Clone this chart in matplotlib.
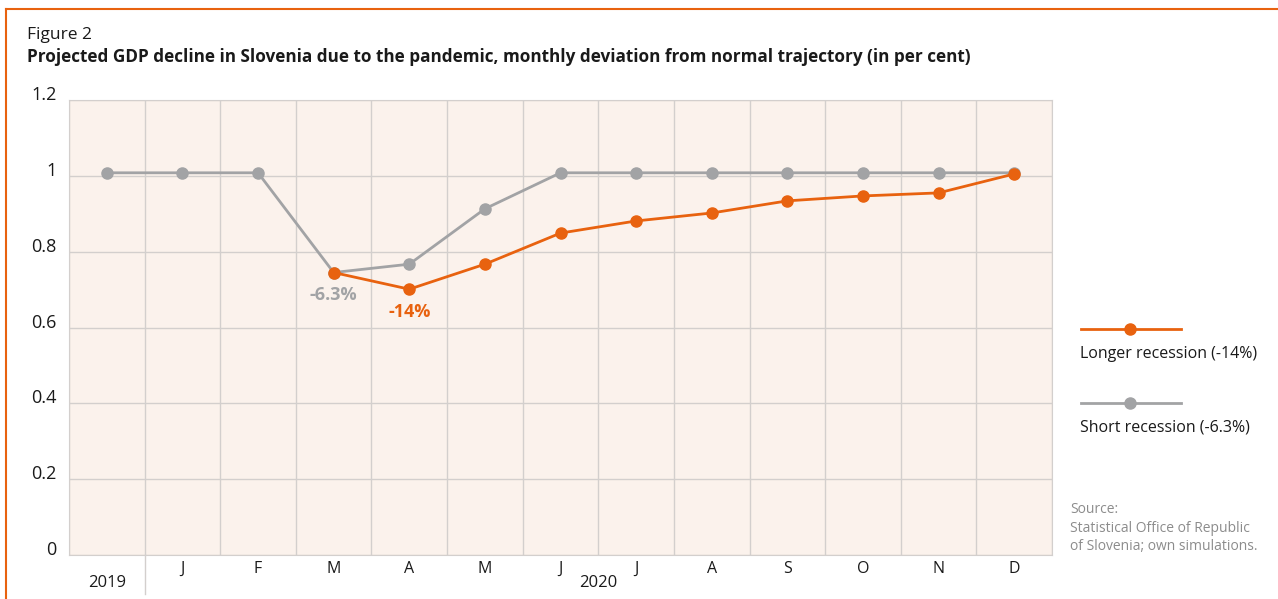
import matplotlib.pyplot as plt
from matplotlib.lines import Line2D
import numpy as np

plt.rcParams['font.family'] = ['Open Sans', 'DejaVu Sans']

# months: Dec 2019, then Jan..Dec 2020
months = ['', 'J', 'F', 'M', 'A', 'M', 'J', 'J', 'A', 'S', 'O', 'N', 'D']
years = ['2019', '2020']
short_rec = [1.008, 1.008, 1.008, 0.745, 0.767, 0.913, 1.008, 1.008, 1.008, 1.008, 1.008, 1.008, 1.008]
longer_rec = [None, None, None, 0.745, 0.701, 0.767, 0.849, 0.881, 0.902, 0.934, 0.947, 0.955, 1.005]
yticks = [0, 0.2, 0.4, 0.6, 0.8, 1, 1.2]
ytick_labels = ['0', '0.2', '0.4', '0.6', '0.8', '1', '1.2']

orange = '#E8620F'
grey = '#A2A3A5'
gridc = '#D3CFCD'
txt = '#1a1a1a'

fig = plt.figure(figsize=(12.78, 5.99), dpi=100)
ax = fig.add_axes([69/1278, 1-555/599, (1052-69)/1278, (555-100)/599])
ax.set_facecolor('#FBF2EC')

x = np.arange(len(months))
ax.plot(x, short_rec, '-o', color=grey, lw=2, ms=8, zorder=3)
xl = [i for i, v in zip(x, longer_rec) if v is not None]
yl = [v for v in longer_rec if v is not None]
ax.plot(xl, yl, '-o', color=orange, lw=2, ms=8, zorder=4)

ax.text(3, short_rec[3] - 0.06, '-6.3%', color=grey, fontsize=13, fontweight='bold',
        ha='center', va='center')
ax.text(4, longer_rec[4] - 0.06, '-14%', color=orange, fontsize=13, fontweight='bold',
        ha='center', va='center')

ax.set_xlim(-0.5, len(months) - 0.5)
ax.set_ylim(0, 1.2)
ax.set_yticks(yticks)
# labels sit just above their gridlines
ax.set_yticklabels(ytick_labels, fontsize=13, color=txt, va='baseline')
ax.set_xticks(x)
ax.set_xticklabels(months, fontsize=11.5, color=txt)
ax.set_xticks(np.arange(-0.5, len(months)), minor=True)
ax.tick_params(axis='both', which='both', length=0)
ax.tick_params(axis='y', pad=9)
ax.tick_params(axis='x', pad=4)
ax.grid(True, axis='y', which='major', color=gridc, lw=1)
ax.grid(True, axis='x', which='minor', color=gridc, lw=1)
ax.set_axisbelow(True)
for s in ax.spines.values():
    s.set_color(gridc)

# year labels and separator
tr = ax.get_xaxis_transform()
ax.text(0, -0.062, years[0], transform=tr, ha='center', va='center', fontsize=12, color=txt)
ax.text(6.5, -0.062, years[1], transform=tr, ha='center', va='center', fontsize=12, color=txt)
ax.plot([0.5, 0.5], [0, -0.085], transform=tr, color=gridc, lw=1, clip_on=False)

ft = fig.transFigure
# legend
fig.add_artist(Line2D([1081/1278, 1181/1278], [1-329/599]*2, color=orange, lw=2, transform=ft))
fig.add_artist(Line2D([1130/1278], [1-329/599], color=orange, marker='o', ms=8, transform=ft))
fig.text(1080/1278, 1-354/599, 'Longer recession (-14%)', fontsize=11.5, color=txt, va='center')
fig.add_artist(Line2D([1081/1278, 1181/1278], [1-403/599]*2, color=grey, lw=2, transform=ft))
fig.add_artist(Line2D([1130/1278], [1-403/599], color=grey, marker='o', ms=8, transform=ft))
fig.text(1080/1278, 1-427/599, 'Short recession (-6.3%)', fontsize=11.5, color=txt, va='center')

fig.text(1070/1278, 1-528/599, 'Source:\nStatistical Office of Republic\nof Slovenia; own simulations.',
         fontsize=10, color='#8c8c8c', va='center', linespacing=1.35)

# titles
fig.text(27/1278, 1-35/599, 'Figure 2', fontsize=12.5, color=txt, va='center')
fig.text(27/1278, 1-57/599,
         'Projected GDP decline in Slovenia due to the pandemic, monthly deviation from normal trajectory (in per cent)',
         fontsize=12.3, fontweight='bold', color=txt, va='center')

# orange frame
fig.add_artist(Line2D([6/1278, 1], [1-9/599]*2, color=orange, lw=1.5, transform=ft))
fig.add_artist(Line2D([6/1278]*2, [0, 1-9/599], color=orange, lw=1.5, transform=ft))

fig.savefig('out.png', dpi=100)
